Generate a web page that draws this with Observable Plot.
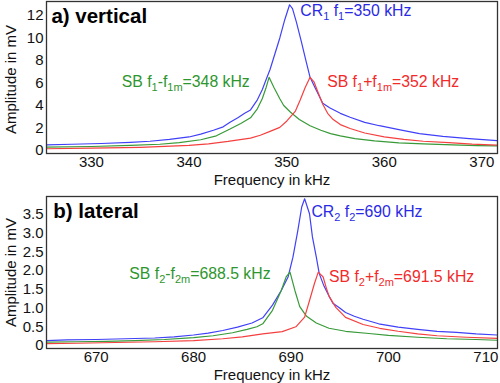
<!DOCTYPE html>
<html>
<head>
<meta charset="utf-8">
<script src="https://cdn.jsdelivr.net/npm/d3@7"></script>
<script src="https://cdn.jsdelivr.net/npm/@observablehq/plot@0.6"></script>
<style>
  html, body { margin: 0; padding: 0; background: #fff; }
  #chart svg { display: block; }
</style>
</head>
<body>
<div id="chart"></div>
<script>
// ---------- Panel a) vertical ----------
const aXTicks = [330, 340, 350, 360, 370];
const aYTicks = [0, 2, 4, 6, 8, 10, 12];

const aCrF = [325.4, 328, 331, 334, 336, 338, 340, 341.2, 342.5, 343.5, 344.2, 345, 345.7, 346.3, 347, 347.5, 347.9, 348.3, 348.8, 349.3, 349.8, 350.3, 350.6, 351, 351.5, 352, 352.4, 352.9, 353.7, 354.4, 355.5, 356.5, 358, 359.5, 361.5, 363.6, 366, 368.7, 371.6];
const aCrA = [0.5, 0.55, 0.62, 0.72, 0.82, 0.98, 1.2, 1.45, 1.8, 2.1, 2.5, 2.9, 3.3, 3.6, 4.5, 5.4, 6.3, 7.2, 8.6, 10.0, 11.6, 12.95, 12.6, 11.4, 9.7, 7.9, 6.5, 5.6, 4.2, 3.8, 3.3, 2.95, 2.5, 2.2, 1.85, 1.5, 1.25, 1.05, 0.88];

const aLoF = [325.4, 330, 334, 337, 339, 341.2, 342.8, 344.2, 345.3, 346.3, 347, 347.5, 347.9, 348.2, 348.7, 349.3, 349.7, 350.4, 351.3, 352.4, 353.5, 354.5, 355.5, 357, 359, 361.5, 364, 367, 369.5, 371.6];
const aLoA = [0.3, 0.35, 0.45, 0.55, 0.7, 0.95, 1.3, 1.9, 2.4, 2.9, 3.7, 4.6, 5.6, 6.5, 5.6, 4.6, 4.0, 3.4, 2.75, 2.2, 1.8, 1.5, 1.3, 1.05, 0.85, 0.68, 0.58, 0.5, 0.43, 0.4];

const aHiF = [325.4, 330, 335, 340, 342, 344, 346.3, 347.3, 348.3, 349.3, 350, 350.5, 350.9, 351.4, 351.9, 352.4, 352.8, 353.2, 353.7, 354.2, 354.7, 355.5, 356.5, 358, 360, 362, 364, 366.6, 369, 371.6];
const aHiA = [0.15, 0.2, 0.28, 0.45, 0.58, 0.8, 1.1, 1.35, 1.7, 2.05, 2.6, 3.1, 3.5, 4.5, 5.6, 6.5, 6.1, 5.2, 4.1, 3.3, 2.8, 2.3, 1.95, 1.55, 1.2, 0.98, 0.82, 0.7, 0.56, 0.47];

// ---------- Panel b) lateral ----------
const bXTicks = [670, 680, 690, 700, 710];
const bYTicks = [0, 0.5, 1.0, 1.5, 2.0, 2.5, 3.0, 3.5];

const bCrF = [664.9, 667, 670, 673, 676, 678, 680, 681.5, 683, 684.5, 686, 687.1, 688.1, 689, 689.7, 690.2, 690.7, 691.1, 691.4, 691.9, 692.2, 692.6, 692.9, 693.4, 693.9, 694.3, 695, 695.6, 696.5, 697.4, 699, 701, 703, 705, 707, 709, 711.2];
const bCrA = [0.13, 0.15, 0.16, 0.18, 0.2, 0.23, 0.28, 0.33, 0.4, 0.49, 0.6, 0.74, 1.08, 1.47, 1.83, 2.36, 3.07, 3.7, 3.92, 3.52, 2.9, 2.36, 1.92, 1.58, 1.32, 1.13, 1.0, 0.88, 0.78, 0.7, 0.58, 0.49, 0.43, 0.38, 0.35, 0.31, 0.28];

const bLoF = [664.9, 668, 671, 674, 677, 680, 682, 684, 685.5, 686.5, 687.1, 688.1, 689, 689.5, 689.9, 690.4, 690.9, 691.6, 692.6, 693.9, 695.6, 698, 700, 703, 706, 709, 711.2];
const bLoA = [0.09, 0.1, 0.11, 0.13, 0.16, 0.21, 0.26, 0.34, 0.43, 0.5, 0.58, 0.94, 1.47, 1.83, 1.96, 1.47, 1.04, 0.78, 0.6, 0.46, 0.38, 0.32, 0.27, 0.22, 0.18, 0.16, 0.14];

const bHiF = [664.9, 668, 672, 676, 680, 683, 685, 687.1, 689.1, 690.5, 691.4, 692, 692.4, 692.8, 693.3, 693.6, 693.9, 694.6, 695.6, 697.4, 699.1, 701, 703, 705, 708, 711.2];
const bHiA = [0.05, 0.06, 0.08, 0.1, 0.13, 0.18, 0.23, 0.31, 0.37, 0.5, 0.76, 1.29, 1.65, 1.96, 1.83, 1.56, 1.32, 1.02, 0.75, 0.56, 0.46, 0.38, 0.31, 0.26, 0.22, 0.19];

// labels
const xLabel = "Frequency in kHz";
const yLabel = "Amplitude in mV";
const aTitle = "a) vertical";
const bTitle = "b) lateral";
const aNotes = [
  {f: 351.4, a: 12.4, text: "CR_1 f_1=350 kHz", key: "cr"},
  {f: 333.1, a: 6.05, text: "SB f_1-f_{1m}=348 kHz", key: "lo"},
  {f: 354.15, a: 6.05, text: "SB f_1+f_{1m}=352 kHz", key: "hi"}
];
const bNotes = [
  {f: 692.1, a: 3.56, text: "CR_2 f_2=690 kHz", key: "cr"},
  {f: 673.4, a: 1.92, text: "SB f_2-f_{2m}=688.5 kHz", key: "lo"},
  {f: 693.9, a: 1.84, text: "SB f_2+f_{2m}=691.5 kHz", key: "hi"}
];

const lineColor = {cr: "#4040f8", lo: "#389a38", hi: "#f54040"};
const textColor = {cr: "#2a2ae6", lo: "#2e962e", hi: "#f22a2a"};

function rows(fs, as, key) { return fs.map((f, i) => ({f, a: as[i], key})); }

const FONT = "'Liberation Sans', Arial, Helvetica, sans-serif";

function panel({height, marginTop, marginBottom, xDomain, yDomain, xTicks, yTicks, yFmt, series, notes, title, titlePos, yLabelDx}) {
  const data = series.flat();
  return Plot.plot({
    width: 500,
    height,
    marginTop,
    marginBottom,
    marginLeft: 46,
    marginRight: 3,
    style: {fontFamily: FONT, fontSize: "15px", color: "#111", background: "#fff"},
    x: {domain: xDomain, ticks: xTicks, tickSize: 0, tickPadding: 3, label: null, tickFormat: d => String(d)},
    y: {domain: yDomain, ticks: yTicks, tickSize: 0, tickPadding: 3, label: null, tickFormat: yFmt},
    marks: [
      Plot.line(data, {x: "f", y: "a", z: "key", stroke: d => lineColor[d.key], strokeWidth: 1.2, clip: true}),
      Plot.frame({stroke: "#333", strokeWidth: 1.3}),
      Plot.text(notes, {x: "f", y: "a", text: "text", textAnchor: "start", fill: d => textColor[d.key], fontSize: 15.8}),
      Plot.text([title], {x: () => titlePos[0], y: () => titlePos[1], text: d => d, textAnchor: "start", fontSize: 20.5, fontWeight: "bold", fill: "#000"}),
      Plot.text([xLabel], {frameAnchor: "bottom", textAnchor: "middle", lineAnchor: "middle", dy: 27, text: d => d, fontSize: 15, fill: "#111"}),
      Plot.text([yLabel], {frameAnchor: "left", textAnchor: "middle", lineAnchor: "middle", dx: -35, dy: yLabelDx, rotate: -90, text: d => d, fontSize: 15, fill: "#111"})
    ]
  });
}

function subify(svg) {
  svg.querySelectorAll("text").forEach(t => {
    const s = t.textContent;
    if (!s.includes("_")) return;
    const re = /_\{([^}]*)\}|_(.)|([^_]+)/g;
    t.textContent = "";
    let shifted = false, m;
    const NS = "http://www.w3.org/2000/svg";
    while ((m = re.exec(s)) !== null) {
      const ts = document.createElementNS(NS, "tspan");
      if (m[3] !== undefined) {
        ts.textContent = m[3];
        if (shifted) ts.setAttribute("dy", "-4");
        shifted = false;
      } else {
        ts.textContent = m[1] !== undefined ? m[1] : m[2];
        ts.setAttribute("font-size", "11");
        if (!shifted) ts.setAttribute("dy", "4");
        shifted = true;
      }
      t.appendChild(ts);
    }
  });
}

const chartA = panel({
  height: 190, marginTop: 1, marginBottom: 37,
  xDomain: [325.4, 371.6], yDomain: [-0.27, 13.24],
  xTicks: aXTicks, yTicks: aYTicks, yFmt: d => String(d),
  series: [rows(aCrF, aCrA, "cr"), rows(aLoF, aLoA, "lo"), rows(aHiF, aHiA, "hi")],
  notes: aNotes, title: aTitle, titlePos: [325.9, 11.95], yLabelDx: 2
});
const chartB = panel({
  height: 193, marginTop: 6, marginBottom: 35,
  xDomain: [664.9, 711.2], yDomain: [-0.08, 3.98],
  xTicks: bXTicks, yTicks: bYTicks, yFmt: d => d === 0 ? "0" : d.toFixed(1),
  series: [rows(bCrF, bCrA, "cr"), rows(bLoF, bLoA, "lo"), rows(bHiF, bHiA, "hi")],
  notes: bNotes, title: bTitle, titlePos: [665.6, 3.59], yLabelDx: 0
});
subify(chartA);
subify(chartB);
const root = document.getElementById("chart");
root.appendChild(chartA);
root.appendChild(chartB);
</script>
</body>
</html>
